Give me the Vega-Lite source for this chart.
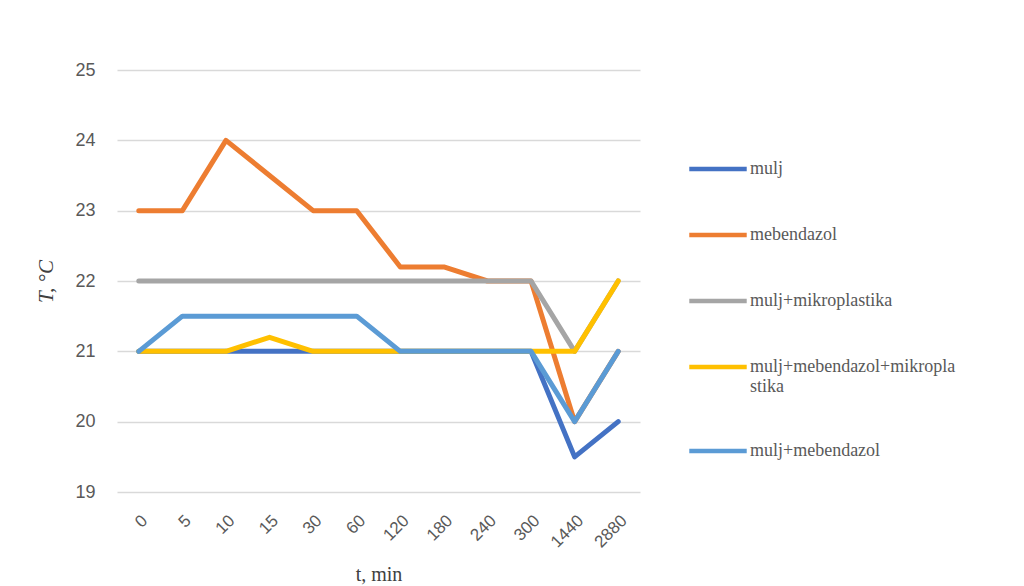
{
  "$schema": "https://vega.github.io/schema/vega-lite/v6.json",
  "width": 523,
  "height": 422,
  "autosize": {"type": "none"},
  "padding": {"left": 117, "top": 70, "right": 384, "bottom": 94},
  "background": "white",
  "config": {
    "view": {"stroke": null},
    "font": "Liberation Sans"
  },
  "data": {
    "values": [
      {"t": "0", "series": "mulj", "T": 21},
      {"t": "5", "series": "mulj", "T": 21},
      {"t": "10", "series": "mulj", "T": 21},
      {"t": "15", "series": "mulj", "T": 21},
      {"t": "30", "series": "mulj", "T": 21},
      {"t": "60", "series": "mulj", "T": 21},
      {"t": "120", "series": "mulj", "T": 21},
      {"t": "180", "series": "mulj", "T": 21},
      {"t": "240", "series": "mulj", "T": 21},
      {"t": "300", "series": "mulj", "T": 21},
      {"t": "1440", "series": "mulj", "T": 19.5},
      {"t": "2880", "series": "mulj", "T": 20},
      {"t": "0", "series": "mebendazol", "T": 23},
      {"t": "5", "series": "mebendazol", "T": 23},
      {"t": "10", "series": "mebendazol", "T": 24},
      {"t": "15", "series": "mebendazol", "T": 23.5},
      {"t": "30", "series": "mebendazol", "T": 23},
      {"t": "60", "series": "mebendazol", "T": 23},
      {"t": "120", "series": "mebendazol", "T": 22.2},
      {"t": "180", "series": "mebendazol", "T": 22.2},
      {"t": "240", "series": "mebendazol", "T": 22},
      {"t": "300", "series": "mebendazol", "T": 22},
      {"t": "1440", "series": "mebendazol", "T": 20},
      {"t": "2880", "series": "mebendazol", "T": 21},
      {"t": "0", "series": "mulj+mikroplastika", "T": 22},
      {"t": "5", "series": "mulj+mikroplastika", "T": 22},
      {"t": "10", "series": "mulj+mikroplastika", "T": 22},
      {"t": "15", "series": "mulj+mikroplastika", "T": 22},
      {"t": "30", "series": "mulj+mikroplastika", "T": 22},
      {"t": "60", "series": "mulj+mikroplastika", "T": 22},
      {"t": "120", "series": "mulj+mikroplastika", "T": 22},
      {"t": "180", "series": "mulj+mikroplastika", "T": 22},
      {"t": "240", "series": "mulj+mikroplastika", "T": 22},
      {"t": "300", "series": "mulj+mikroplastika", "T": 22},
      {"t": "1440", "series": "mulj+mikroplastika", "T": 21},
      {"t": "2880", "series": "mulj+mikroplastika", "T": 22},
      {"t": "0", "series": "mulj+mebendazol+mikroplastika", "T": 21},
      {"t": "5", "series": "mulj+mebendazol+mikroplastika", "T": 21},
      {"t": "10", "series": "mulj+mebendazol+mikroplastika", "T": 21},
      {"t": "15", "series": "mulj+mebendazol+mikroplastika", "T": 21.2},
      {"t": "30", "series": "mulj+mebendazol+mikroplastika", "T": 21},
      {"t": "60", "series": "mulj+mebendazol+mikroplastika", "T": 21},
      {"t": "120", "series": "mulj+mebendazol+mikroplastika", "T": 21},
      {"t": "180", "series": "mulj+mebendazol+mikroplastika", "T": 21},
      {"t": "240", "series": "mulj+mebendazol+mikroplastika", "T": 21},
      {"t": "300", "series": "mulj+mebendazol+mikroplastika", "T": 21},
      {"t": "1440", "series": "mulj+mebendazol+mikroplastika", "T": 21},
      {"t": "2880", "series": "mulj+mebendazol+mikroplastika", "T": 22},
      {"t": "0", "series": "mulj+mebendazol", "T": 21},
      {"t": "5", "series": "mulj+mebendazol", "T": 21.5},
      {"t": "10", "series": "mulj+mebendazol", "T": 21.5},
      {"t": "15", "series": "mulj+mebendazol", "T": 21.5},
      {"t": "30", "series": "mulj+mebendazol", "T": 21.5},
      {"t": "60", "series": "mulj+mebendazol", "T": 21.5},
      {"t": "120", "series": "mulj+mebendazol", "T": 21},
      {"t": "180", "series": "mulj+mebendazol", "T": 21},
      {"t": "240", "series": "mulj+mebendazol", "T": 21},
      {"t": "300", "series": "mulj+mebendazol", "T": 21},
      {"t": "1440", "series": "mulj+mebendazol", "T": 20},
      {"t": "2880", "series": "mulj+mebendazol", "T": 21}
    ]
  },
  "mark": {"type": "line", "strokeWidth": 5, "strokeCap": "round", "strokeJoin": "round"},
  "encoding": {
    "x": {
      "field": "t",
      "type": "ordinal",
      "sort": ["0","5","10","15","30","60","120","180","240","300","1440","2880"],
      "scale": {"type": "point", "padding": 0.5},
      "axis": {
        "title": "t, min",
        "titleFont": "Liberation Serif",
        "titleFontSize": 20,
        "titleFontWeight": "normal",
        "titleColor": "#404040",
        "titlePadding": 14,
        "labelAngle": -45,
        "labelFontSize": 17,
        "labelColor": "#595959",
        "labelPadding": 20,
        "ticks": false,
        "domain": false,
        "grid": false
      }
    },
    "y": {
      "field": "T",
      "type": "quantitative",
      "scale": {"domain": [19, 25], "zero": false},
      "axis": {
        "title": "T, °C",
        "titleFont": "Liberation Serif",
        "titleFontSize": 21,
        "titleFontStyle": "italic",
        "titleFontWeight": "normal",
        "titleColor": "#404040",
        "titlePadding": 18,
        "values": [19, 20, 21, 22, 23, 24, 25],
        "labelFontSize": 18,
        "labelColor": "#595959",
        "labelPadding": 22,
        "ticks": false,
        "domain": false,
        "grid": true,
        "gridColor": "#d9d9d9",
        "gridWidth": 1.3
      }
    },
    "color": {
      "field": "series",
      "type": "nominal",
      "sort": ["mulj", "mebendazol", "mulj+mikroplastika", "mulj+mebendazol+mikroplastika", "mulj+mebendazol"],
      "scale": {
        "domain": ["mulj", "mebendazol", "mulj+mikroplastika", "mulj+mebendazol+mikroplastika", "mulj+mebendazol"],
        "range": ["#4472C4", "#ED7D31", "#A5A5A5", "#FFC000", "#5B9BD5"]
      },
      "legend": {
        "title": null,
        "orient": "none",
        "legendX": 570,
        "legendY": 88,
        "symbolType": "stroke",
        "symbolSize": 3300,
        "symbolStrokeWidth": 4.5,
        "labelFont": "Liberation Serif",
        "labelFontSize": 18,
        "labelColor": "#595959",
        "labelLimit": 400,
        "labelOffset": 1,
        "clipHeight": 22,
        "rowPadding": 44,
        "labelExpr": "datum.label == 'mulj+mebendazol+mikroplastika' ? ['mulj+mebendazol+mikropla', 'stika'] : datum.label"
      }
    }
  }
}
